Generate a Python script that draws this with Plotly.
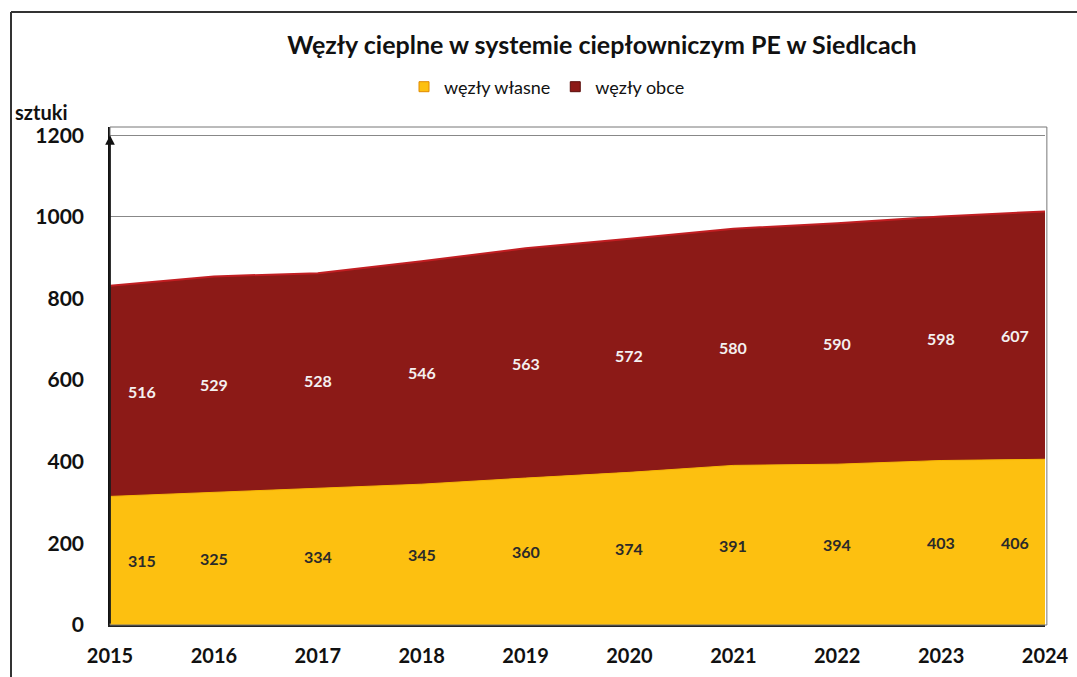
import plotly.graph_objects as go

# Heat substations in the Siedlce district heating network
years = [2015, 2016, 2017, 2018, 2019, 2020, 2021, 2022, 2023, 2024]
wezly_wlasne = [315, 325, 334, 345, 360, 374, 391, 394, 403, 406]
wezly_obce = [516, 529, 528, 546, 563, 572, 580, 590, 598, 607]
y_ticks = [0, 200, 400, 600, 800, 1000, 1200]

YELLOW = "#FDC010"
RED = "#8C1A17"
FONT = "Lato"

fig = go.Figure()
fig.add_trace(go.Scatter(
    x=years, y=wezly_wlasne, name="węzły własne", stackgroup="one", showlegend=False,
    mode="lines", line=dict(color="#F8B800", width=1), fillcolor=YELLOW,
))
fig.add_trace(go.Scatter(
    x=years, y=wezly_obce, name="węzły obce", stackgroup="one", showlegend=False,
    mode="lines", line=dict(color="#C21E22", width=2), fillcolor=RED,
))
# square legend keys
for name, col, edge in [("węzły własne", YELLOW, "#E08A00"), ("węzły obce", RED, "#5a0d0b")]:
    fig.add_trace(go.Scatter(
        x=[None], y=[None], name=name, mode="markers",
        marker=dict(symbol="square", size=10, color=col, line=dict(color=edge, width=1)),
    ))

# value labels in the middle of each band
n = len(years)
for i, yr in enumerate(years):
    shift = 32 if i == 0 else (-30 if i == n - 1 else 0)
    low = wezly_wlasne[i]
    fig.add_annotation(x=yr, y=low / 2, text=str(low), showarrow=False,
                       xshift=shift, font=dict(family=FONT, size=16, color="#2a2a2a", weight="bold"))
    fig.add_annotation(x=yr, y=low + wezly_obce[i] / 2, text=str(wezly_obce[i]), showarrow=False,
                       xshift=shift, font=dict(family=FONT, size=16, color="#f4f0f0", weight="bold"))

# arrow-tipped value axis
fig.add_annotation(x=years[0], y=1200, ax=years[0], ay=0, xref="x", yref="y",
                   axref="x", ayref="y", showarrow=True, arrowhead=2, arrowsize=1.2,
                   arrowwidth=1.6, arrowcolor="#111", text="")

# unit label
fig.add_annotation(text="<b>sztuki</b>", xref="paper", yref="paper", x=-0.104, y=1.03,
                   xanchor="left", yanchor="middle", showarrow=False,
                   font=dict(family=FONT, size=20, color="#111"))

# plot-area frame
fig.add_shape(type="rect", xref="x domain", yref="y domain", x0=0, x1=1.002, y0=0, y1=1,
              line=dict(color="#777", width=1), layer="above")
# outer chart frame: top and left edges
fx0 = (11 - 110) / 935
fy_top = (625 - 12) / 498
fig.add_shape(type="line", xref="paper", yref="paper", x0=fx0, x1=(1077 - 110) / 935,
              y0=fy_top, y1=fy_top, line=dict(color="#333", width=2))
fig.add_shape(type="line", xref="paper", yref="paper", x0=fx0, x1=fx0,
              y0=fy_top, y1=(625 - 677) / 498, line=dict(color="#333", width=2))

fig.update_layout(
    width=1077, height=677,
    margin=dict(l=110, r=32, t=127, b=52),
    paper_bgcolor="white", plot_bgcolor="white",
    title=dict(text="<b>Węzły cieplne w systemie ciepłowniczym PE w Siedlcach</b>",
               x=(602 - 110) / 935, xref="paper", xanchor="center",
               y=1 - 45 / 677, yanchor="middle",
               font=dict(family=FONT, size=25, color="#111")),
    legend=dict(orientation="h", x=(547 - 110) / 935, xanchor="center",
                y=1 - 87 / 677, yanchor="middle", yref="container",
                font=dict(family=FONT, size=18, color="#111"),
                traceorder="normal", itemwidth=30, bgcolor="rgba(0,0,0,0)"),
    showlegend=True,
    font=dict(family=FONT),
)
fig.update_xaxes(
    range=[years[0], years[-1]], tickmode="array", tickvals=years,
    ticktext=[str(y) for y in years], showgrid=False, zeroline=False, automargin=False,
    showline=True, linecolor="#222", linewidth=1.5, ticks="", ticklabelstandoff=12,
    tickfont=dict(family=FONT, size=20, color="#111", weight="bold"),
)
fig.update_yaxes(
    range=[0, 1220], tickmode="array", tickvals=y_ticks, showgrid=True, automargin=False,
    gridcolor="#888", gridwidth=1, zeroline=False, showline=True,
    linecolor="#111", linewidth=1.5, ticks="", ticklabelstandoff=20,
    tickfont=dict(family=FONT, size=21, color="#111", weight="bold"),
)

fig.write_html("out.html")
